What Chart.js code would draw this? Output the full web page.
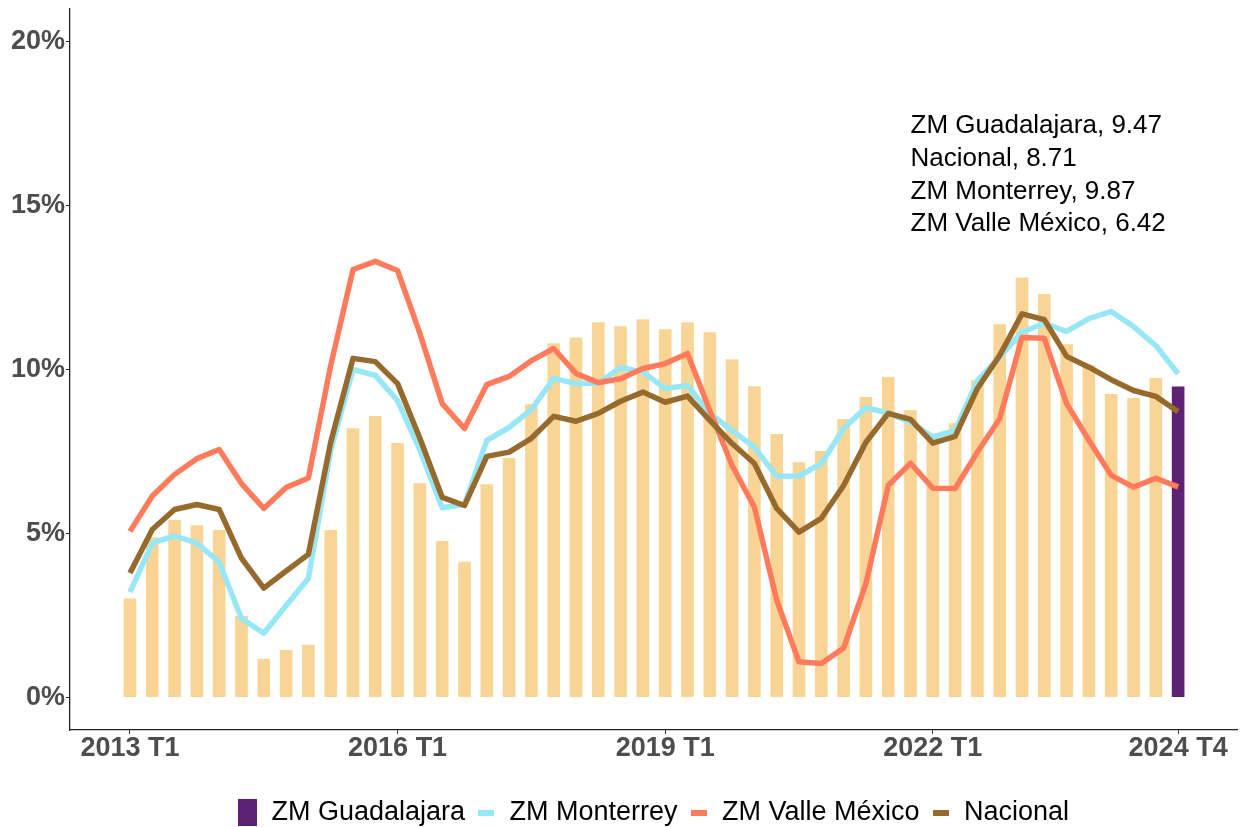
<!DOCTYPE html>
<html>
<head>
<meta charset="utf-8">
<script src="https://cdn.jsdelivr.net/npm/chart.js@4.4.1/dist/chart.umd.min.js"></script>
<style>
  html, body { margin: 0; padding: 0; background: #fff; }
</style>
</head>
<body>
<canvas id="chart" width="1242" height="827"></canvas>
<script>
const years = [2013, 2014, 2015, 2016, 2017, 2018, 2019, 2020, 2021, 2022, 2023, 2024]
const quarterNames = ['T1', 'T2', 'T3', 'T4']
const quarters = years.flatMap(y => quarterNames.map(q => y + ' ' + q))

// tasas trimestrales, %
const guadalajara = [3.00, 4.87, 5.40, 5.24, 5.09, 2.47, 1.16, 1.43, 1.59, 5.09, 8.20, 8.57, 7.75, 6.52, 4.76, 4.12,
  6.49, 7.29, 8.93, 10.79, 10.97, 11.43, 11.31, 11.52, 11.22, 11.43, 11.13, 10.30, 9.48, 8.02, 7.16, 7.50,
  8.48, 9.15, 9.76, 8.75, 8.00, 8.35, 9.66, 11.37, 12.80, 12.29, 10.76, 10.12, 9.24, 9.12, 9.73, 9.47]
const monterrey = [3.21, 4.70, 4.92, 4.70, 4.12, 2.40, 1.95, 2.80, 3.62, 7.53, 10.00, 9.82, 9.05, 7.55, 5.78, 5.88,
  7.84, 8.23, 8.78, 9.73, 9.57, 9.58, 10.06, 9.92, 9.42, 9.51, 8.66, 8.14, 7.63, 6.74, 6.75, 7.13,
  8.20, 8.84, 8.67, 8.39, 7.94, 8.14, 9.66, 10.38, 11.14, 11.41, 11.16, 11.55, 11.77, 11.31, 10.73, 9.87]
const valle = [5.06, 6.14, 6.80, 7.28, 7.56, 6.52, 5.76, 6.40, 6.69, 10.12, 13.05, 13.30, 13.02, 11.10, 8.96, 8.20,
  9.54, 9.79, 10.27, 10.64, 9.88, 9.60, 9.72, 10.03, 10.18, 10.49, 8.75, 7.07, 5.80, 2.96, 1.08, 1.03,
  1.50, 3.47, 6.46, 7.14, 6.38, 6.37, 7.48, 8.50, 10.98, 10.95, 8.96, 7.84, 6.77, 6.41, 6.68, 6.42]
const nacional = [3.79, 5.12, 5.73, 5.88, 5.73, 4.24, 3.33, 3.85, 4.36, 7.78, 10.34, 10.24, 9.57, 7.90, 6.10, 5.85,
  7.35, 7.48, 7.90, 8.57, 8.42, 8.66, 9.03, 9.31, 9.00, 9.19, 8.45, 7.74, 7.13, 5.76, 5.04, 5.46,
  6.46, 7.78, 8.66, 8.48, 7.75, 7.96, 9.42, 10.43, 11.70, 11.52, 10.40, 10.07, 9.69, 9.36, 9.18, 8.71]

const xTickIdx = [0, 12, 24, 36, 47]
const yTicks = [0, 5, 10, 15, 20]

const family = '"Liberation Sans", Arial, sans-serif'
const barColor = '#F9D595'
const lastColor = '#5D2273'
const colors = { monterrey: '#97E7F7', valle: '#FF7B5C', nacional: '#966A2C' }

const toPoints = arr => arr.map((v, i) => ({ x: i, y: v }))

function keyImage(color, w, h){
    const c = document.createElement('canvas')
    c.width = w; c.height = h
    const g = c.getContext('2d')
    g.fillStyle = color
    g.fillRect(0, 0, w, h)
    return c
}
const keys = [keyImage(lastColor, 19, 27), keyImage(colors.monterrey, 16, 6), keyImage(colors.valle, 16, 6), keyImage(colors.nacional, 16, 6)]

const notes = [['ZM Guadalajara', guadalajara], ['Nacional', nacional], ['ZM Monterrey', monterrey], ['ZM Valle México', valle]]
    .map(([name, arr]) => name + ', ' + arr[arr.length - 1].toFixed(2))

const notePlugin = {
    id: 'notes',
    afterDatasetsDraw(chart){
        const {ctx, scales: {x, y}} = chart
        ctx.save()
        ctx.font = '26px ' + family
        ctx.fillStyle = '#000'
        ctx.textAlign = 'left'
        ctx.textBaseline = 'middle'
        notes.forEach((t, i) => ctx.fillText(t, x.getPixelForValue(35.0), y.getPixelForValue(17.43 - i)))
        ctx.restore()
    }
}

const lineSet = (label, arr, color, order) => ({
    type: 'line', label, data: toPoints(arr), borderColor: color, backgroundColor: color,
    borderWidth: 5.5, pointRadius: 0, tension: 0, borderJoinStyle: 'round', order
})

new Chart(document.getElementById('chart'), {
    type: 'bar',
    data: {
      datasets: [
        { label: 'ZM Guadalajara', data: toPoints(guadalajara), barThickness: 12, order: 4,
          backgroundColor: guadalajara.map((v, i) => i === guadalajara.length - 1 ? lastColor : barColor) },
        lineSet('ZM Monterrey', monterrey, colors.monterrey, 3),
        lineSet('ZM Valle México', valle, colors.valle, 2),
        lineSet('Nacional', nacional, colors.nacional, 1)
      ]
    },
    options: {
      responsive: false,
      animation: false,
      devicePixelRatio: 1,
      layout: { padding: { top: 9, right: 5, left: 0, bottom: 0 } },
      plugins: {
        tooltip: { enabled: false },
        legend: {
          position: 'bottom',
          fullSize: false,
          maxHeight: 39,
          labels: {
            usePointStyle: true,
            boxWidth: 20,
            pointStyleWidth: 20,
            padding: 11,
            color: '#000',
            font: { size: 27, family },
            generateLabels: chart => chart.data.datasets.map((ds, i) => ({
              text: ds.label, pointStyle: keys[i], fillStyle: 'transparent', strokeStyle: 'transparent',
              lineWidth: 0, hidden: false, datasetIndex: i, fontColor: '#000'
            }))
          }
        }
      },
      scales: {
        x: {
          type: 'linear', min: -2.69, max: 49.64, offset: false,
          afterBuildTicks: s => { s.ticks = xTickIdx.map(v => ({ value: v })) },
          afterFit: s => { s.height = 58; s.paddingLeft = 0; s.paddingRight = 0 },
          ticks: { callback: v => quarters[v], autoSkip: false, maxRotation: 0, padding: -2,
                   color: '#4D4D4D', font: { size: 27, weight: 'bold', family } },
          grid: { offset: false, drawOnChartArea: false, tickLength: 4, color: '#333' },
          border: { display: true, color: '#222', width: 1.3 }
        },
        y: {
          min: -1, max: 21,
          afterBuildTicks: s => { s.ticks = yTicks.map(v => ({ value: v })) },
          afterFit: s => { s.width = 70; s.paddingTop = 0; s.paddingBottom = 0 },
          ticks: { callback: v => v + '%', padding: 1, color: '#4D4D4D', font: { size: 27, weight: 'bold', family } },
          grid: { drawOnChartArea: false, tickLength: 4, color: '#333' },
          border: { display: true, color: '#222', width: 1.3 }
        }
      }
    },
    plugins: [notePlugin]
});
</script>
</body>
</html>
